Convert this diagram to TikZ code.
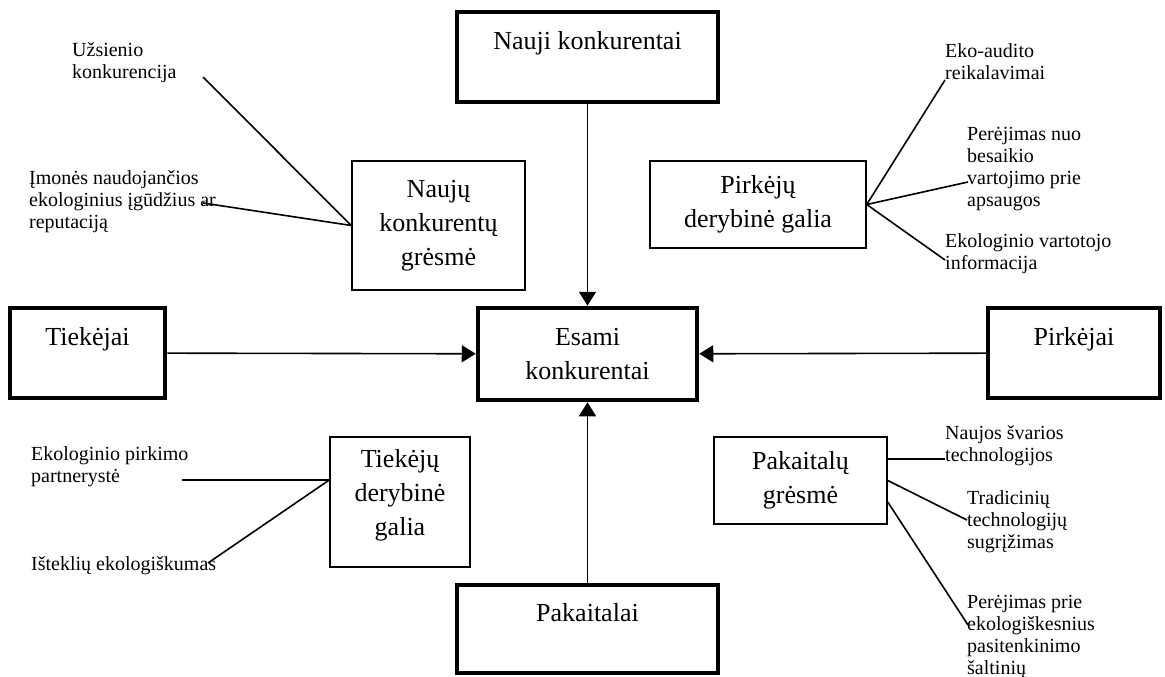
\documentclass[tikz,border=0pt]{standalone}
\usepackage{fontspec}
\setmainfont{Liberation Serif}
\usetikzlibrary{positioning,arrows.meta}
\tikzset{
  force/.style={draw,line width=4.5pt,align=center,font=\fontsize{26}{34}\selectfont},
  threat/.style={draw,line width=1.5pt,align=center,font=\fontsize{26}{34}\selectfont},
  note/.style={anchor=north west,inner sep=0pt,align=left,font=\fontsize{20}{22}\selectfont,execute at begin node=\strut},
  leg/.style={line width=1.6pt},
  push/.style={line width=1.6pt,-{Triangle[length=14pt,width=17pt]}}
}
\begin{document}
\begin{tikzpicture}[x=1pt,y=-1pt]
  \useasboundingbox (0,0) rectangle (1165,677);
  % the five forces
  \node[force,minimum width=219pt,minimum height=92pt] (esami) at (587.5,354) {Esami\\konkurentai};
  \node[force,minimum width=261pt,minimum height=90pt] (nauji) at (587.5,57) {Nauji konkurentai\\\mbox{}};
  \node[force,minimum width=155pt,minimum height=90pt] (tiek) at (87.5,353) {Tiekėjai\\\mbox{}};
  \node[force,minimum width=172pt,minimum height=90pt] (pirk) at (1074,353) {Pirkėjai\\\mbox{}};
  \node[force,minimum width=261pt,minimum height=88pt] (pakait) at (587.5,629) {Pakaitalai\\\mbox{}};
  \draw[push] (nauji) -- (esami);
  \draw[push] (pakait) -- (esami);
  \draw[push] (tiek) -- (esami);
  \draw[push] (pirk) -- (esami);
  % threats and bargaining power
  \node[threat,minimum width=173pt,minimum height=129pt] (nkg) at (438.5,225.5) {Naujų\\konkurentų\\grėsmė};
  \node[threat,minimum width=216pt,minimum height=87pt] (pdg) at (758,204.5) {Pirkėjų\\derybinė galia};
  \node[threat,minimum width=140pt,minimum height=130pt,text depth=20pt] (tdg) at (400,502) {Tiekėjų\\derybinė\\galia};
  \node[threat,minimum width=173pt,minimum height=87pt] (pg) at (800.5,480.5) {Pakaitalų\\grėsmė};
  % ecological factors
  \node[note] (uzs) at (72,42) {Užsienio\\konkurencija};
  \node[note] (imon) at (29,170) {Įmonės naudojančios\\ekologinius įgūdžius ar\\reputaciją};
  \node[note] (eko) at (945,43) {Eko-audito\\reikalavimai};
  \node[note] (perej) at (967,127) {Perėjimas nuo\\besaikio\\vartojimo prie\\apsaugos};
  \node[note] (evi) at (945,233) {Ekologinio vartotojo\\informacija};
  \node[note] (epp) at (31,446) {Ekologinio pirkimo\\partnerystė};
  \node[note] (ist) at (31,555) {Išteklių ekologiškumas};
  \node[note] (nst) at (945,425) {Naujos švarios\\technologijos};
  \node[note] (trad) at (967,490) {Tradicinių\\technologijų\\sugrįžimas};
  \node[note] (pas) at (967,595) {Perėjimas prie\\ekologiškesnius\\pasitenkinimo\\šaltinių};
  \coordinate (uzsE) at (203,77);
  \coordinate (imonE) at (203,203);
  \coordinate (ekoE) at (945,80);
  \coordinate (perejE) at (968,182);
  \coordinate (eviE) at (945,260);
  \coordinate (eppE) at (182,480);
  \coordinate (istE) at (208,563);
  \coordinate (nstE) at (945,459);
  \coordinate (tradE) at (967,520);
  \coordinate (pasE) at (968,625);
  \foreach \e in {uzsE,imonE} \draw[leg] (nkg.west) -- (\e);
  \foreach \e in {ekoE,perejE,eviE} \draw[leg] (pdg.east) -- (\e);
  \foreach \e in {eppE,istE} \draw[leg] ([yshift=22pt]tdg.west) -- (\e);
  \draw[leg] ([yshift=21.5pt]pg.east) -- (nstE);
  \draw[leg] (pg.east) -- (tradE);
  \draw[leg] ([yshift=-21.5pt]pg.east) -- (pasE);
\end{tikzpicture}
\end{document}
